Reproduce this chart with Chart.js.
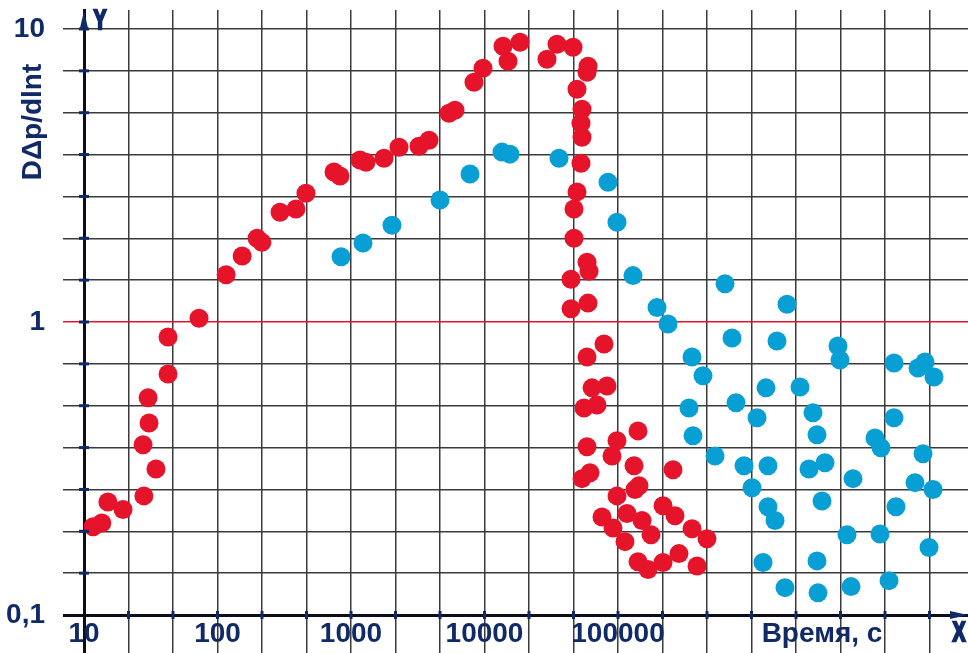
<!DOCTYPE html>
<html>
<head>
<meta charset="utf-8">
<title>DΔp/dlnt</title>
<script src="https://cdn.jsdelivr.net/npm/chart.js@4.4.1/dist/chart.umd.min.js"></script>
<style>
  html, body { margin: 0; padding: 0; background: #fff; }
  #wrap { width: 968px; height: 653px; }
</style>
</head>
<body>
<div id="wrap"><canvas id="chart" width="968" height="653"></canvas></div>
<script>
// red series: time, s / DΔp/dlnt
const redTime = [11.7, 13.6, 15.1, 19.6, 28.1, 34.6, 27.7, 30.7, 30.2, 42.6, 42.6, 72.7, 116, 153, 198, 215,
  294, 387, 460, 746, 827, 1168, 1295, 1767, 2289, 3232, 3840, 5422, 6012, 8343, 9745, 13760, 15000, 18450,
  29390, 34930, 46030, 59630, 58610, 49310, 53750, 52830, 53750, 52830, 49310, 46820, 46820, 58610, 60660,
  44460, 59630, 44460, 78560, 58610, 63870, 82700, 55640, 69610, 141200, 98280, 58610, 90160, 131800, 258200,
  61710, 53750, 143700, 134100, 98280, 75890, 116800, 217400, 267300, 151300, 91730, 112800, 176700, 358400,
  464200, 141200, 167800, 217400, 286300, 390800];
const redValue = [0.2, 0.206, 0.243, 0.229, 0.255, 0.315, 0.381, 0.452, 0.551, 0.665, 0.889, 1.03, 1.45, 1.68,
  1.93, 1.87, 2.37, 2.43, 2.75, 3.25, 3.15, 3.57, 3.51, 3.62, 3.95, 3.98, 4.17, 5.16, 5.28, 6.58, 7.35, 8.73,
  7.76, 9.01, 7.88, 8.87, 8.66, 7.46, 7.12, 6.23, 5.32, 4.77, 4.27, 3.48, 2.78, 2.43, 1.93, 1.6, 1.49, 1.4,
  1.16, 1.11, 0.841, 0.76, 0.596, 0.605, 0.509, 0.521, 0.425, 0.393, 0.375, 0.349, 0.323, 0.313, 0.306, 0.292,
  0.276, 0.268, 0.255, 0.216, 0.222, 0.236, 0.218, 0.21, 0.198, 0.178, 0.188, 0.197, 0.182, 0.152, 0.143,
  0.151, 0.162, 0.147];

// blue series
const blueTime = [842, 1230, 2028, 4642, 7789, 13520, 15520, 36150, 84180, 98280, 129500, 196000, 236900,
  633300, 1845000, 714500, 1552000, 4445000, 4601000, 358400, 433200, 11680000, 19930000, 17670000, 23280000,
  1284000, 2308000, 340300, 765500, 2888000, 1100000, 11680000, 3095000, 364600, 8415000, 9333000, 19260000,
  532900, 878500, 1329000, 2696000, 3553000, 5758000, 1009000, 16780000, 22890000, 3374000, 1329000, 1500000,
  12090000, 5193000, 9173000, 21360000, 1220000, 3095000, 1782000, 3149000, 5564000, 10720000];
const blueValue = [1.67, 1.86, 2.14, 2.61, 3.2, 3.8, 3.74, 3.62, 3.0, 2.19, 1.44, 1.12, 0.984, 1.35, 1.15,
  0.882, 0.861, 0.828, 0.742, 0.76, 0.655, 0.725, 0.73, 0.697, 0.649, 0.596, 0.6, 0.509, 0.53, 0.49, 0.471,
  0.471, 0.412, 0.409, 0.402, 0.372, 0.355, 0.349, 0.323, 0.323, 0.315, 0.331, 0.292, 0.272, 0.283, 0.268,
  0.245, 0.234, 0.21, 0.234, 0.188, 0.189, 0.17, 0.151, 0.153, 0.124, 0.119, 0.125, 0.131];

const xTickLabels = ['10', '100', '1000', '10000', '100000'];
const yTickLabels = ['0,1', '1', '10'];
const xAxisTitle = 'Время, с';
const yAxisTitle = 'DΔp/dlnt';

const navy = '#102a68';
const gridColor = '#3a3a3a';
const axisColor = '#0d0d1a';
const red = '#e6142a';
const blue = '#079fd4';
const fontFamily = '"Liberation Sans", Arial, sans-serif';

// grid: 3 lines per decade on x, 7 per decade on y
const xGrid = [];
for (let k = 0; k <= 19; k++) xGrid.push(Math.pow(10, 1 + k / 3));
const yGrid = [];
for (let k = 0; k <= 14; k++) yGrid.push(Math.pow(10, -1 + k / 7));

const toPoints = (xs, ys) => xs.map((x, i) => ({ x: x, y: ys[i] }));

// heavy condensed letter next to an axis arrow
function axisLetter(ctx, text, cx, cy) {
    ctx.save();
    ctx.translate(cx, cy);
    ctx.scale(0.7, 1);
    ctx.lineWidth = 2.5;
    ctx.strokeStyle = navy;
    ctx.strokeText(text, 0, 0);
    ctx.fillText(text, 0, 0);
    ctx.restore();
}

const decorations = {
    id: 'decorations',
    afterDraw(chart) {
        const { ctx, scales: { x, y } } = chart;
        const ax = x.getPixelForValue(10);
        const ay = y.getPixelForValue(0.1);
        ctx.save();

        // small marks across the axes
        ctx.fillStyle = navy;
        xGrid.forEach((v, i) => {
            if (i === 0) return;
            const px = x.getPixelForValue(v);
            ctx.fillRect(px - 1.5, ay - 4, 3, 8);
        });
        yGrid.forEach((v, i) => {
            if (i === 0) return;
            const py = y.getPixelForValue(v);
            ctx.fillRect(ax - 5, py - 1.5, 10, 3);
        });

        // arrows
        ctx.beginPath();
        ctx.moveTo(ax, 11);
        ctx.lineTo(ax - 4, 28);
        ctx.lineTo(ax + 4, 28);
        ctx.closePath();
        ctx.fill();
        ctx.beginPath();
        ctx.moveTo(968, ay);
        ctx.lineTo(950, ay - 4);
        ctx.lineTo(950, ay + 4);
        ctx.closePath();
        ctx.fill();

        // axis letters
        ctx.font = 'bold 27px ' + fontFamily;
        ctx.textAlign = 'center';
        ctx.textBaseline = 'middle';
        axisLetter(ctx, 'Y', 100, 22);
        axisLetter(ctx, 'X', 959, 634);

        // axis titles
        ctx.font = 'bold 28px ' + fontFamily;
        ctx.fillText(xAxisTitle, 822, 634);
        ctx.save();
        ctx.translate(33, 122);
        ctx.rotate(-Math.PI / 2);
        ctx.fillText(yAxisTitle, 0, 0);
        ctx.restore();

        ctx.restore();
    }
};

new Chart(document.getElementById('chart'), {
    type: 'scatter',
    data: {
        datasets: [
            {
                label: 'blue',
                data: toPoints(blueTime, blueValue),
                backgroundColor: blue,
                borderWidth: 0,
                pointRadius: 9.5
            },
            {
                label: 'red',
                data: toPoints(redTime, redValue),
                backgroundColor: red,
                borderWidth: 0,
                pointRadius: 9.5
            }
        ]
    },
    options: {
        responsive: false,
        animation: false,
        events: [],
        layout: { autoPadding: false, padding: { top: 10, right: 0, bottom: 0, left: 0 } },
        plugins: {
            legend: { display: false },
            tooltip: { enabled: false }
        },
        scales: {
            x: {
                type: 'logarithmic',
                position: 'bottom',
                bounds: 'data',
                min: 10,
                max: 4.185e7,
                afterBuildTicks: (scale) => { scale.ticks = xGrid.map(v => ({ value: v })); },
                afterFit: (scale) => { scale.height = 38; scale.paddingLeft = 0; scale.paddingRight = 0; },
                grid: {
                    color: (c) => c.index === 0 ? axisColor : gridColor,
                    lineWidth: (c) => c.index === 0 ? 3 : 1.5,
                    tickLength: 38
                },
                border: { display: true, color: axisColor, width: 3 },
                ticks: {
                    autoSkip: false,
                    maxRotation: 0,
                    padding: -36,
                    color: navy,
                    font: { family: fontFamily, weight: 'bold', size: 28 },
                    callback: (value, index) => index % 3 === 0 ? (xTickLabels[index / 3] || '') : ''
                }
            },
            y: {
                type: 'logarithmic',
                position: 'left',
                bounds: 'data',
                min: 0.1,
                max: 11.61,
                afterBuildTicks: (scale) => { scale.ticks = yGrid.map(v => ({ value: v })); },
                afterFit: (scale) => { scale.width = 84; scale.paddingTop = 0; scale.paddingBottom = 0; },
                grid: {
                    color: (c) => c.index === 0 ? axisColor : (c.index === 7 ? red : gridColor),
                    lineWidth: (c) => c.index === 0 ? 3 : 1.5,
                    tickLength: 21
                },
                border: { display: true, color: axisColor, width: 3 },
                ticks: {
                    autoSkip: false,
                    padding: 18,
                    color: navy,
                    font: { family: fontFamily, weight: 'bold', size: 28 },
                    callback: (value, index) => index % 7 === 0 ? (yTickLabels[index / 7] || '') : ''
                }
            }
        }
    },
    plugins: [decorations]
});
</script>
</body>
</html>
